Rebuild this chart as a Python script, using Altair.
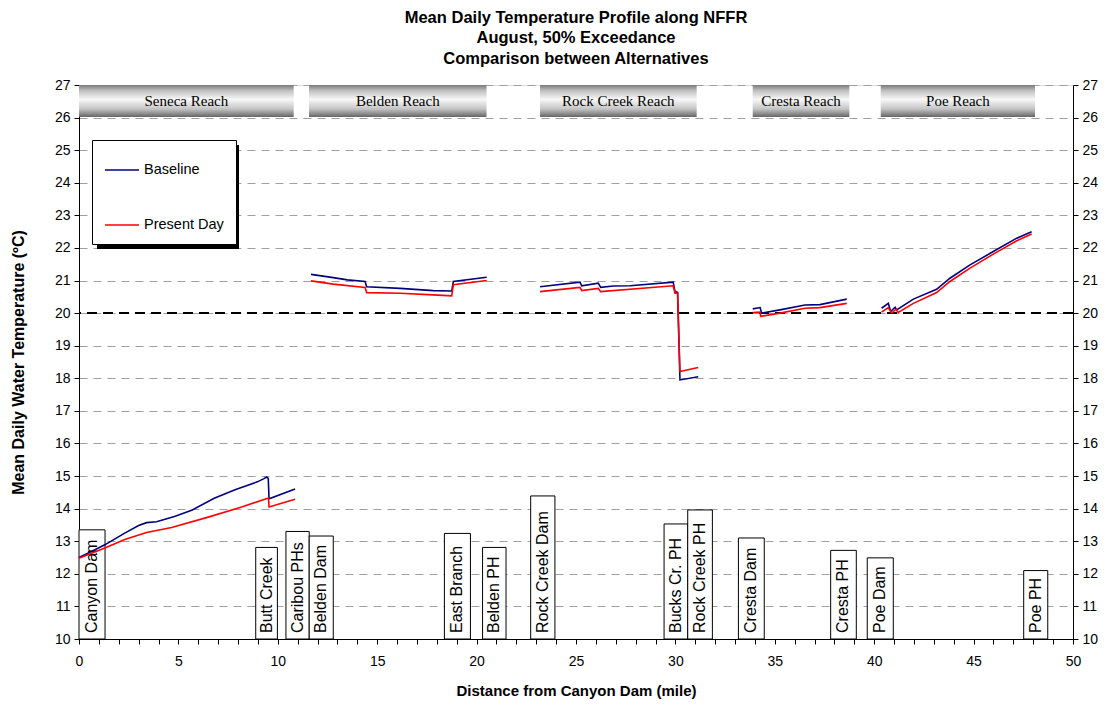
import altair as alt
import pandas as pd

# ---------------- data ----------------
reach_names = ["Seneca Reach", "Belden Reach", "Rock Creek Reach", "Cresta Reach", "Poe Reach"]
reach_start = [0.0, 11.57, 23.19, 33.89, 40.33]
reach_end = [10.8, 20.5, 31.07, 38.75, 48.09]
reach_top = 27.0
reach_bottom = 26.02

site_names = ["Canyon Dam", "Butt Creek", "Caribou PHs", "Belden Dam", "East Branch",
              "Belden PH", "Rock Creek Dam", "Bucks Cr. PH", "Rock Creek PH",
              "Cresta Dam", "Cresta PH", "Poe Dam", "Poe PH"]
site_start = [0.0, 8.89, 10.41, 11.58, 18.38, 20.30, 22.72, 29.43, 30.62, 33.17, 37.81, 39.65, 47.52]
site_end = [1.31, 9.98, 11.58, 12.79, 19.69, 21.48, 23.94, 30.62, 31.86, 34.47, 39.10, 40.96, 48.73]
site_top = [13.35, 12.81, 13.30, 13.16, 13.24, 12.81, 14.39, 13.53, 13.96, 13.10, 12.72, 12.49, 12.10]

base_mile = [0.0, 0.6, 1.3, 2.3, 3.0, 3.4, 3.9, 4.8, 5.7, 6.8, 7.85, 9.0, 9.3, 9.44, 9.52, 9.56, 10.87,
             11.67, 12.79, 13.5, 14.39, 14.47, 16.15, 17.82, 18.75, 18.83, 20.51,
             23.19, 25.2, 25.29, 26.12, 26.24, 26.88, 27.72, 29.89, 29.98, 30.11, 30.23, 31.15,
             33.89, 34.26, 34.34, 35.26, 36.52, 37.27, 38.62,
             40.37, 40.71, 40.83, 41.05, 41.13, 41.97, 43.14, 43.81, 44.82, 45.99, 47.17, 47.92]
base_temp = [12.50, 12.68, 12.89, 13.25, 13.48, 13.57, 13.60, 13.76, 13.96, 14.32, 14.58, 14.83, 14.92, 14.97, 14.93, 14.30, 14.60,
             21.19, 21.09, 21.02, 20.97, 20.81, 20.76, 20.69, 20.68, 20.97, 21.10,
             20.81, 20.95, 20.84, 20.92, 20.79, 20.83, 20.84, 20.95, 20.66, 20.64, 17.95, 18.05,
             20.13, 20.17, 20.00, 20.10, 20.25, 20.26, 20.43,
             20.15, 20.30, 20.05, 20.18, 20.10, 20.43, 20.73, 21.07, 21.48, 21.89, 22.30, 22.50]
base_seg = [1] * 17 + [2] * 10 + [3] * 12 + [4] * 7 + [5] * 12

pres_mile = [0.0, 1.3, 2.3, 3.4, 4.66, 6.5, 8.18, 9.49, 9.53, 9.56, 10.87,
             11.67, 12.79, 14.39, 14.47, 16.15, 17.82, 18.75, 18.83, 20.51,
             23.19, 25.2, 25.29, 26.12, 26.24, 29.89, 29.98, 30.11, 30.23, 31.15,
             33.89, 34.26, 34.29, 35.26, 36.52, 37.27, 38.62,
             40.37, 40.71, 40.88, 41.10, 41.21, 41.97, 43.14, 43.81, 44.82, 45.99, 47.17, 47.92]
pres_temp = [12.48, 12.79, 13.05, 13.27, 13.42, 13.74, 14.05, 14.32, 14.33, 14.05, 14.29,
             20.99, 20.89, 20.79, 20.63, 20.61, 20.56, 20.53, 20.87, 21.00,
             20.66, 20.79, 20.69, 20.76, 20.66, 20.84, 20.61, 20.61, 18.21, 18.33,
             20.02, 20.03, 19.90, 20.00, 20.15, 20.17, 20.30,
             20.03, 20.17, 20.00, 20.12, 20.02, 20.30, 20.63, 20.97, 21.38, 21.81, 22.22, 22.43]
pres_seg = [1] * 11 + [2] * 9 + [3] * 10 + [4] * 7 + [5] * 12

threshold = 20.0
x_ticks = list(range(0, 51))
y_ticks = list(range(10, 28))

# ---------------- tables ----------------
lines = pd.concat([
    pd.DataFrame({"mile": base_mile, "temp": base_temp, "seg": base_seg,
                  "series": "Baseline", "idx": range(len(base_mile))}),
    pd.DataFrame({"mile": pres_mile, "temp": pres_temp, "seg": pres_seg,
                  "series": "Present Day", "idx": range(len(pres_mile))}),
], ignore_index=True)

reaches = pd.DataFrame({"name": reach_names, "x0": reach_start, "x1": reach_end,
                        "y0": reach_bottom, "y1": reach_top})
reaches["xm"] = (reaches["x0"] + reaches["x1"]) / 2
reaches["ym"] = (reaches["y0"] + reaches["y1"]) / 2

sites = pd.DataFrame({"name": site_names, "x0": site_start, "x1": site_end,
                      "top": site_top, "bottom": 10.0})
sites["xm"] = (sites["x0"] + sites["x1"]) / 2

SANS = "Liberation Sans"
SERIF = "Liberation Serif"

xscale = alt.Scale(domain=[0, 50], nice=False, zero=False)
yscale = alt.Scale(domain=[10, 27], nice=False, zero=False)

x_axis = alt.Axis(values=x_ticks, labelExpr="datum.value % 5 == 0 ? datum.label : ''",
                  title="Distance from Canyon Dam (mile)", grid=False, tickSize=5,
                  domainColor="black", tickColor="black", labelFontSize=14, labelFont=SANS,
                  labelColor="black", labelPadding=10, titleFont=SANS, titleFontSize=15,
                  titleFontWeight="bold", titlePadding=15, titleColor="black", labelFlush=False)
y_axis_left = alt.Axis(values=y_ticks, title="Mean Daily Water Temperature (ºC)", grid=True,
                       gridDash=[8, 6], gridColor="#a0a0a0", gridWidth=1, tickSize=5,
                       domainColor="black", tickColor="black", labelFontSize=14, labelFont=SANS,
                       labelColor="black", labelPadding=4, titleFont=SANS, titleFontSize=16,
                       titleFontWeight="bold", titlePadding=28, titleColor="black")
y_axis_right = alt.Axis(values=y_ticks, orient="right", title=None, grid=False, tickSize=5,
                        domainColor="black", tickColor="black", labelFontSize=14, labelFont=SANS,
                        labelColor="black", labelPadding=4)

X = lambda f: alt.X(f, scale=xscale, axis=x_axis)

# threshold line
thr = alt.Chart(pd.DataFrame({"t": [threshold]})).mark_rule(
    color="black", strokeDash=[10, 6], strokeWidth=2
).encode(y=alt.Y("t:Q", scale=yscale, axis=y_axis_right))

# reach banners
banner = alt.Chart(reaches).mark_rect(
    fill=alt.Gradient(gradient="linear", x1=0, x2=0, y1=0, y2=1,
                      stops=[alt.GradientStop(color="#7a7a7a", offset=0),
                             alt.GradientStop(color="#c0c0c0", offset=0.18),
                             alt.GradientStop(color="#f8f8f8", offset=0.45),
                             alt.GradientStop(color="#c4c4c4", offset=0.75),
                             alt.GradientStop(color="#666666", offset=1)])
).encode(x=X("x0:Q"), x2="x1:Q",
         y=alt.Y("y0:Q", scale=yscale, axis=None), y2="y1:Q")
banner_text = alt.Chart(reaches).mark_text(
    font=SERIF, fontSize=15, color="black", baseline="middle", align="center"
).encode(x=X("xm:Q"), y=alt.Y("ym:Q", scale=yscale, axis=None), text="name:N")

# site boxes
site_box = alt.Chart(sites).mark_rect(fill="white", stroke="black", strokeWidth=1).encode(
    x=X("x0:Q"), x2="x1:Q",
    y=alt.Y("bottom:Q", scale=yscale, axis=None), y2="top:Q")
site_text = alt.Chart(sites).mark_text(
    font=SANS, fontSize=16, color="black", angle=270, align="left", baseline="middle", dx=6
).encode(x=X("xm:Q"), y=alt.Y("bottom:Q", scale=yscale, axis=None), text="name:N")

# legend shadow (decoration)
shadow = alt.Chart(pd.DataFrame({"a": [0]})).mark_rect(fill="black").encode(
    x=alt.value(18), x2=alt.value(160), y=alt.value(60), y2=alt.value(164))

# temperature lines
line = alt.Chart(lines).mark_line(strokeWidth=1.6).encode(
    x=X("mile:Q"),
    y=alt.Y("temp:Q", scale=yscale, axis=y_axis_left),
    color=alt.Color("series:N",
                    scale=alt.Scale(domain=["Baseline", "Present Day"], range=["#000080", "#ff0000"]),
                    legend=alt.Legend(orient="none", legendX=13, legendY=55, title=None,
                                      symbolType="stroke", symbolSize=1156, symbolStrokeWidth=1.5,
                                      labelFontSize=14.5, labelFont=SANS, labelColor="black",
                                      padding=12, rowPadding=30, labelOffset=4,
                                      strokeColor="black", fillColor="white")),
    detail="seg:N",
    order="idx:Q",
)

chart = alt.layer(thr, site_box, site_text, banner, banner_text, shadow, line).resolve_axis(
    y="independent"
).properties(
    width=994, height=554,
    autosize=alt.AutoSizeParams(type="none"),
    padding={"left": 71, "top": 77, "right": 30, "bottom": 61},
    title=alt.TitleParams(
        text=["Mean Daily Temperature Profile along NFFR", "August, 50% Exceedance",
              "Comparison between Alternatives"],
        font=SANS, fontSize=16.5, fontWeight="bold", color="black", lineHeight=20.5,
        anchor="middle", offset=11),
).configure_view(stroke="#808080", strokeWidth=1.5).configure(background="white")

chart.save("out.html", embed_options={"renderer": "svg", "actions": False})
